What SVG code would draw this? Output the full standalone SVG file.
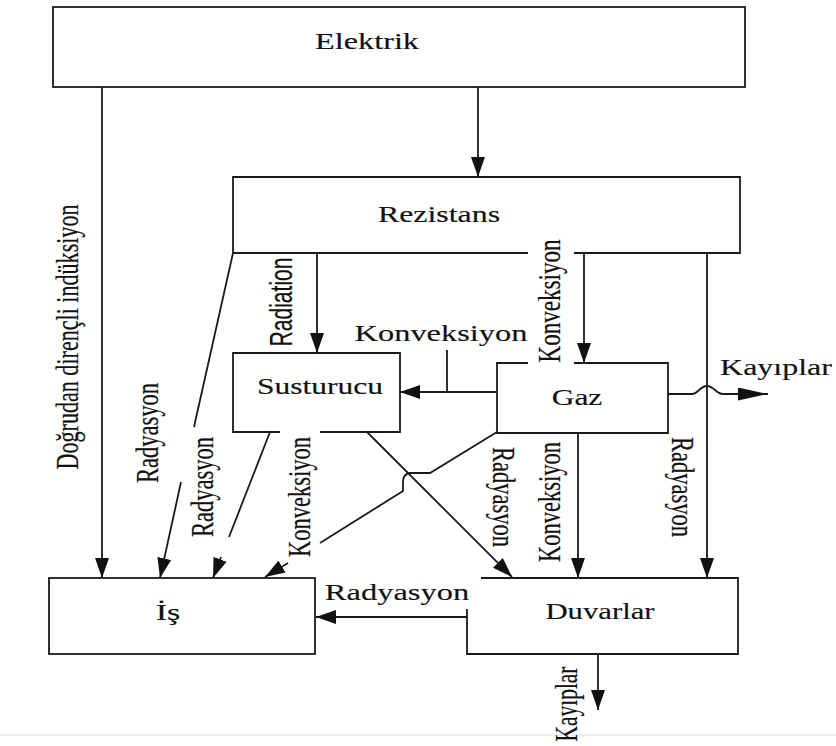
<svg xmlns="http://www.w3.org/2000/svg" width="836" height="746" viewBox="0 0 836 746">
  <style>
    .box { fill: none; stroke: #1a1a1a; stroke-width: 1.8; }
    .edge { fill: none; stroke: #1a1a1a; stroke-width: 1.8; }
    .arr { marker-end: url(#ah); }
    .lbl { font-family: "Liberation Serif", "Times New Roman", serif; fill: #111; stroke: #111; stroke-width: 0.15; text-anchor: middle; }
    .node { font-size: 24px; }
    .edl { font-size: 22px; }
    .vt { dominant-baseline: central; }
    .sans { font-family: "Liberation Sans", Arial, sans-serif; }
  </style>
  <defs>
    <marker id="ah" markerWidth="20" markerHeight="14" refX="20" refY="7" orient="auto" markerUnits="userSpaceOnUse">
      <path d="M0,0 L20,7 L0,14 z" fill="#111"/>
    </marker>
    <marker id="ahl" markerWidth="30" markerHeight="13" refX="30" refY="6.5" orient="auto" markerUnits="userSpaceOnUse">
      <path d="M0,0 L30,6.5 L0,13 z" fill="#111"/>
    </marker>
  </defs>

  <rect width="836" height="746" fill="#fff"/>
  <line x1="0" y1="735" x2="836" y2="735" stroke="#e8e8e8" stroke-width="1.5"/>

  <!-- nodes (horizontal labels are widened 1.3x) -->
  <g id="elektrik">
    <rect class="box" x="53" y="7" width="692" height="80"/>
    <text class="lbl node" transform="translate(367,49) scale(1.3,1)" font-size="25" textLength="80" lengthAdjust="spacingAndGlyphs">Elektrik</text>
  </g>
  <g id="rezistans">
    <path class="box" d="M528,253 H233 V177 H740 V253 H574"/>
    <text class="lbl node" transform="translate(439,222) scale(1.3,1)" font-size="25" textLength="94" lengthAdjust="spacingAndGlyphs">Rezistans</text>
  </g>
  <g id="susturucu">
    <path class="box" d="M280,432 H233 V353 H400 V432 H320"/>
    <text class="lbl node" transform="translate(320,394) scale(1.3,1)" textLength="97" lengthAdjust="spacingAndGlyphs">Susturucu</text>
  </g>
  <g id="gaz">
    <path class="box" d="M528,363 H497 V433 H668 V363 H574"/>
    <text class="lbl node" transform="translate(577,405) scale(1.3,1)" font-size="25" textLength="39" lengthAdjust="spacingAndGlyphs">Gaz</text>
  </g>
  <g id="is">
    <rect class="box" x="49" y="578" width="266" height="76"/>
    <text class="lbl node" transform="translate(168,620) scale(1.3,1)" textLength="19" lengthAdjust="spacingAndGlyphs">İş</text>
  </g>
  <g id="duvarlar">
    <path class="box" d="M481,578 H738 V654 H467 V609"/>
    <text class="lbl node" transform="translate(600,619) scale(1.3,1)" textLength="84" lengthAdjust="spacingAndGlyphs">Duvarlar</text>
  </g>

  <!-- connectors -->
  <g id="connectors">
    <path class="edge arr" d="M102,87 V578"/>
    <path class="edge arr" d="M478,87 V177"/>
    <path class="edge arr" d="M317,253 V353"/>
    <path class="edge arr" d="M584,253 V363"/>
    <path class="edge arr" d="M707,253 V578"/>
    <!-- Rezistans to İş, broken shaft -->
    <path class="edge" d="M233,253 L194,427"/>
    <path class="edge arr" d="M181,482 L160,578"/>
    <!-- Gaz to Susturucu -->
    <path class="edge arr" d="M497,392 H400"/>
    <path class="edge" d="M447,350 V392"/>
    <!-- Gaz losses with hop over the vertical line -->
    <path class="edge" d="M668,394 H692 C698,394 700,386 707,386 C714,386 716,394 723,394 H768" marker-end="url(#ahl)"/>
    <!-- Susturucu to İş -->
    <path class="edge" d="M270,432 L229,537"/>
    <path class="edge arr" d="M221,557 L213,578"/>
    <!-- Gaz to İş with jog at the crossing -->
    <path class="edge" d="M497,432 L430,473 H410 Q403,474 403,482 V491 L320,543"/>
    <path class="edge arr" d="M288,563 L265,577"/>
    <!-- Susturucu to Duvarlar -->
    <path class="edge arr" d="M367,432 L512,577"/>
    <!-- Gaz to Duvarlar -->
    <path class="edge arr" d="M578,433 V578"/>
    <!-- Duvarlar to İş -->
    <path class="edge arr" d="M467,617 H316"/>
    <!-- Duvarlar losses -->
    <path class="edge arr" d="M598,654 V710"/>
  </g>

  <!-- connector labels -->
  <g id="labels">
    <text class="lbl node" transform="translate(441,341) scale(1.3,1)" textLength="133" lengthAdjust="spacingAndGlyphs">Konveksiyon</text>
    <text class="lbl node" transform="translate(397,600) scale(1.3,1)" textLength="111" lengthAdjust="spacingAndGlyphs">Radyasyon</text>
    <text class="lbl node" transform="translate(776,375) scale(1.3,1)" textLength="86" lengthAdjust="spacingAndGlyphs">Kayıplar</text>

    <g transform="translate(68,337) scale(1.45,1) rotate(-90)">
      <text class="lbl edl vt" textLength="265" lengthAdjust="spacingAndGlyphs">Doğrudan dirençli indüksiyon</text>
    </g>
    <g transform="translate(282,302) scale(1.4,1) rotate(-90)">
      <text class="lbl edl vt sans" font-size="20" textLength="89" lengthAdjust="spacingAndGlyphs">Radiation</text>
    </g>
    <g transform="translate(550,301) scale(1.45,1) rotate(-90)">
      <text class="lbl edl vt" textLength="123" lengthAdjust="spacingAndGlyphs">Konveksiyon</text>
    </g>
    <g transform="translate(148,433) scale(1.45,1) rotate(-90)">
      <text class="lbl edl vt" textLength="100" lengthAdjust="spacingAndGlyphs">Radyasyon</text>
    </g>
    <g transform="translate(203,487) scale(1.45,1) rotate(-90)">
      <text class="lbl edl vt" textLength="100" lengthAdjust="spacingAndGlyphs">Radyasyon</text>
    </g>
    <g transform="translate(300,497) scale(1.45,1) rotate(-90)">
      <text class="lbl edl vt" textLength="120" lengthAdjust="spacingAndGlyphs">Konveksiyon</text>
    </g>
    <g transform="translate(503,497) scale(1.45,1) rotate(90)">
      <text class="lbl edl vt" textLength="100" lengthAdjust="spacingAndGlyphs">Radyasyon</text>
    </g>
    <g transform="translate(550,502) scale(1.45,1) rotate(-90)">
      <text class="lbl edl vt" textLength="120" lengthAdjust="spacingAndGlyphs">Konveksiyon</text>
    </g>
    <g transform="translate(682,487) scale(1.45,1) rotate(90)">
      <text class="lbl edl vt" textLength="100" lengthAdjust="spacingAndGlyphs">Radyasyon</text>
    </g>
    <g transform="translate(567,704) scale(1.45,1) rotate(-90)">
      <text class="lbl edl vt" textLength="75" lengthAdjust="spacingAndGlyphs">Kayıplar</text>
    </g>
  </g>
</svg>
